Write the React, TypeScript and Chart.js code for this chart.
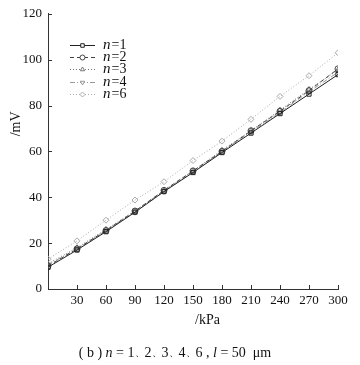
import React, { useEffect, useRef } from "react";
import { Chart, registerables } from "chart.js";
import { drawPoint } from "chart.js/helpers";

Chart.register(...registerables);

const pressures = [0, 30, 60, 90, 120, 150, 180, 210, 240, 270, 300];
const n1 = [9.5, 17, 25, 33.5, 42.5, 50.8, 59.5, 68, 76.5, 85, 93.5];
const n2 = [10, 17.5, 25.5, 34, 43, 51.5, 60, 69, 77.5, 86.5, 96];
const n3 = [11, 18, 26, 34, 43, 51.5, 60.5, 69, 78, 87, 95.5];
const n4 = [10.5, 17.5, 25.5, 33.5, 42.5, 51, 60, 68.5, 77, 86, 94.5];
const n6 = [13, 21, 30, 38.8, 46.8, 56, 64.5, 74, 84, 93, 103];
const seriesNames = ["1", "2", "3", "4", "6"];
const xTicks = [30, 60, 90, 120, 150, 180, 210, 240, 270, 300];
const yTicks = [0, 20, 40, 60, 80, 100, 120];

const FONT = "'Liberation Serif', 'DejaVu Serif', serif";

export default function App() {
  const ref = useRef<HTMLCanvasElement>(null);
  useEffect(() => {
    document.body.style.margin = "0";
    const styles = [
      { color: "#222", dash: [], point: "rect" },
      { color: "#444", dash: [4, 3], point: "circle" },
      { color: "#777", dash: [1, 2], point: "triangle" },
      { color: "#999", dash: [5, 2, 1, 2], point: "triangle" },
      { color: "#aaa", dash: [1, 2], point: "rectRot" },
    ];
    const values = [n1, n2, n3, n4, n6];
    const datasets = values.map((v, i) => ({
      label: "n=" + seriesNames[i],
      data: v.map((y, j) => ({ x: pressures[j], y })),
      borderColor: styles[i].color,
      backgroundColor: "rgba(0,0,0,0)",
      borderWidth: 1,
      borderDash: styles[i].dash,
      pointStyle: styles[i].point,
      pointRotation: i === 3 ? 180 : 0,
      pointRadius: 3,
      pointBorderWidth: 1,
      pointBorderColor: styles[i].color,
      pointBackgroundColor: "rgba(255,255,255,0)",
      tension: 0,
    }));

    const decor = {
      id: "decor",
      afterDatasetsDraw(chart: any) {
        const ctx = chart.ctx;
        const { left, top, bottom } = chart.chartArea;
        const xs = chart.scales.x;
        const ys = chart.scales.y;
        ctx.save();
        // inward ticks
        ctx.strokeStyle = "#333";
        ctx.lineWidth = 1;
        ctx.setLineDash([]);
        ctx.beginPath();
        xTicks.forEach((t) => {
          const px = Math.round(xs.getPixelForValue(t)) + 0.5;
          ctx.moveTo(px, bottom);
          ctx.lineTo(px, bottom - 4);
        });
        yTicks.forEach((t) => {
          const py = Math.round(ys.getPixelForValue(t)) + 0.5;
          ctx.moveTo(left, py);
          ctx.lineTo(left + 4, py);
        });
        ctx.stroke();

        // legend
        chart.data.datasets.forEach((ds: any, i: number) => {
          const y = Math.round(top + 31 + i * 12.3) + 0.5;
          ctx.strokeStyle = ds.borderColor;
          ctx.lineWidth = 1;
          ctx.setLineDash(ds.borderDash);
          ctx.beginPath();
          ctx.moveTo(left + 22, y);
          ctx.lineTo(left + 47, y);
          ctx.stroke();
          ctx.setLineDash([]);
          ctx.fillStyle = "#fff";
          ctx.strokeStyle = ds.borderColor;
          drawPoint(
            ctx,
            { pointStyle: ds.pointStyle, rotation: ds.pointRotation, radius: 2.5, borderWidth: 1 },
            left + 34.5,
            y
          );
          ctx.fillStyle = "#111";
          ctx.textBaseline = "middle";
          ctx.textAlign = "left";
          ctx.font = "italic 15px " + FONT;
          ctx.fillText("n", left + 55, y);
          const w = ctx.measureText("n").width;
          ctx.font = "14px " + FONT;
          ctx.fillText("=" + seriesNames[i], left + 55 + w + 1, y);
        });

        // axis titles
        ctx.fillStyle = "#111";
        ctx.font = "14px " + FONT;
        ctx.textAlign = "center";
        ctx.textBaseline = "middle";
        ctx.fillText("/kPa", xs.getPixelForValue(165), 320);
        ctx.save();
        ctx.translate(16, ys.getPixelForValue(72));
        ctx.rotate(-Math.PI / 2);
        ctx.fillText("/mV", 0, 0);
        ctx.restore();

        // caption
        ctx.textAlign = "left";
        const parts: [string, boolean, number][] = [
          ["( b ) ", false, 14],
          ["n", true, 14],
          [" = 1", false, 14],
          ["、", false, 10],
          ["2", false, 14],
          ["、", false, 10],
          ["3", false, 14],
          ["、", false, 10],
          ["4", false, 14],
          ["、", false, 10],
          ["6 , ", false, 14],
          ["l", true, 14],
          [" = 50  μm", false, 14],
        ];
        const fnt = (it: boolean, sz: number) => (it ? "italic " : "") + sz + "px " + FONT;
        let total = 0;
        parts.forEach(([t, it, sz]) => {
          ctx.font = fnt(it, sz);
          total += ctx.measureText(t).width;
        });
        let x = 175 - total / 2;
        parts.forEach(([t, it, sz]) => {
          ctx.font = fnt(it, sz);
          ctx.fillText(t, x, 353);
          x += ctx.measureText(t).width;
        });
        ctx.restore();
      },
    };

    const chart = new Chart(ref.current!, {
      type: "line",
      data: { datasets },
      options: {
        animation: false,
        responsive: false,
        maintainAspectRatio: false,
        layout: { padding: { top: 11, right: 22, left: 0, bottom: 0 } },
        plugins: { legend: { display: false }, tooltip: { enabled: false } },
        scales: {
          x: {
            type: "linear",
            min: 0,
            max: 300,
            afterFit: (s: any) => {
              s.height = 76;
            },
            afterBuildTicks: (s: any) => {
              s.ticks = [0, ...xTicks].map((v) => ({ value: v }));
            },
            ticks: {
              callback: (v: any) => (v === 0 ? "" : String(v)),
              color: "#111",
              font: { family: FONT, size: 13 },
              padding: 4,
              maxRotation: 0,
              autoSkip: false,
            },
            grid: { drawOnChartArea: false, drawTicks: false },
            border: { display: true, color: "#333", width: 1 },
          },
          y: {
            type: "linear",
            min: 0,
            max: 120,
            afterFit: (s: any) => {
              s.width = 48;
            },
            afterBuildTicks: (s: any) => {
              s.ticks = yTicks.map((v) => ({ value: v }));
            },
            ticks: {
              color: "#111",
              font: { family: FONT, size: 13 },
              padding: 6,
              autoSkip: false,
            },
            grid: { drawOnChartArea: false, drawTicks: false },
            border: { display: true, color: "#333", width: 1 },
          },
        },
      },
      plugins: [decor],
    });
    return () => chart.destroy();
  }, []);
  return (
    <div style={{ width: 360, height: 365, background: "#fff" }}>
      <canvas ref={ref} width={360} height={365} style={{ width: 360, height: 365 }} />
    </div>
  );
}
